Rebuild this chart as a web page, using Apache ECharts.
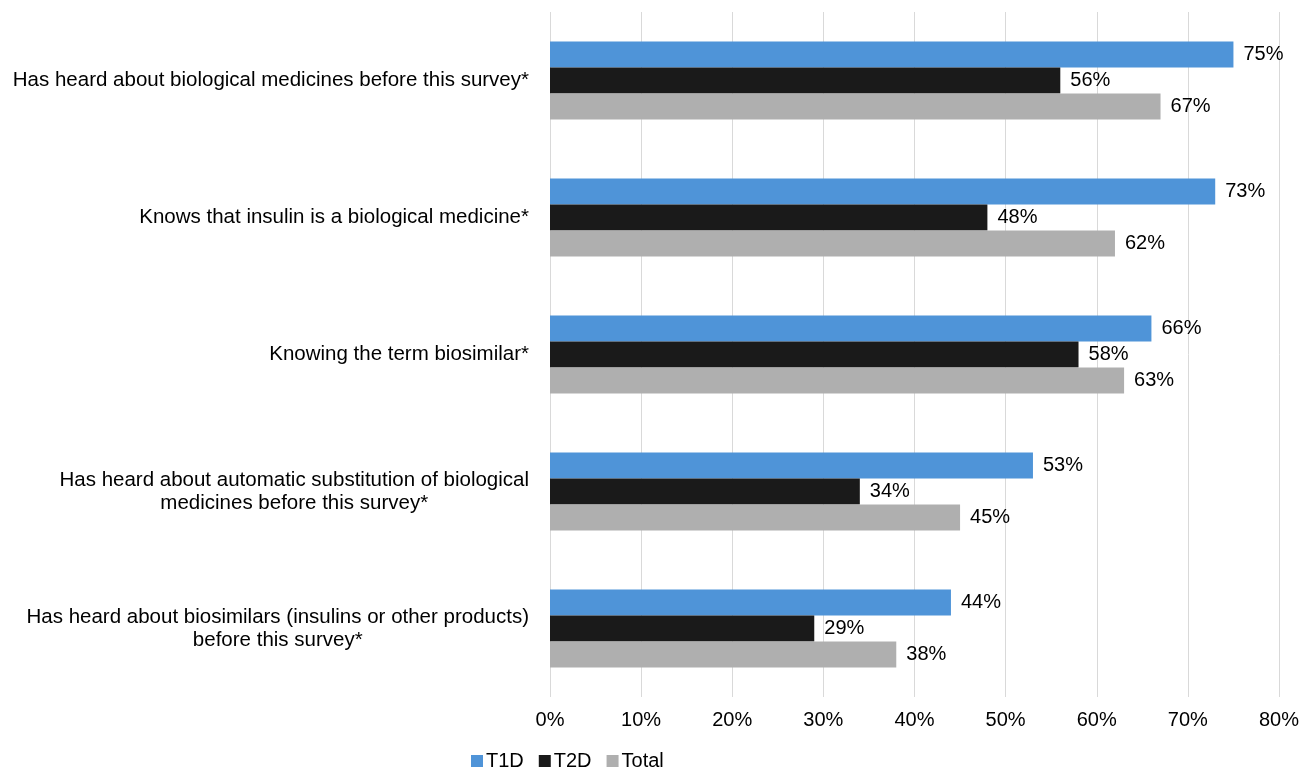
<!DOCTYPE html>
<html>
<head>
<meta charset="utf-8">
<script src="https://cdn.jsdelivr.net/npm/echarts@6/dist/echarts.min.js"></script>
<style>
  html, body { margin: 0; padding: 0; background: #fff; }
  #chart { width: 1311px; height: 769px; }
</style>
</head>
<body>
<div id="chart"></div>
<script>
  const categories = [
    'Has heard about biological medicines before this survey*',
    'Knows that insulin is a biological medicine*',
    'Knowing the term biosimilar*',
    'Has heard about automatic substitution of biological\nmedicines before this survey*',
    'Has heard about biosimilars (insulins or other products)\nbefore this survey*'
  ]
  const seriesNames = ['T1D', 'T2D', 'Total']
  const t1d = [75, 73, 66, 53, 44]
  const t2d = [56, 48, 58, 34, 29]
  const total = [67, 62, 63, 45, 38]
  const colors = ['#4f94d8', '#1a1a1a', '#afafaf']

  const font = 'Liberation Sans, Arial, sans-serif'
  const fs = 20
  const chart = echarts.init(document.getElementById('chart'))

  function makeSeries(name, data, color) {
    return {
      name: name,
      type: 'bar',
      data: data,
      barWidth: 26,
      barGap: '0%',
      itemStyle: {color: color},
      label: {
        show: true,
        position: 'right',
        distance: 10,
        formatter: '{c}%',
        color: '#000',
        fontSize: fs,
        fontFamily: font
      }
    }
  }

  let option = {
    animation: false,
    backgroundColor: '#fff',
    color: colors,
    legend: {
      data: seriesNames,
      bottom: -7,
      left: 466,
      itemWidth: 12,
      itemHeight: 12,
      itemGap: 15,
      icon: 'rect',
      textStyle: {fontSize: fs, fontFamily: font, color: '#000', padding: [0, 0, 0, -2]}
    },
    grid: {
      left: 550,
      right: 32,
      top: 12,
      bottom: 72,
      containLabel: false
    },
    xAxis: {
      type: 'value',
      min: 0,
      max: 80,
      interval: 10,
      axisLine: {show: false},
      axisTick: {show: false},
      axisLabel: {
        formatter: '{value}%',
        fontSize: fs,
        fontFamily: font,
        color: '#000',
        margin: 13
      },
      splitLine: {lineStyle: {color: '#d9d9d9', width: 1}}
    },
    yAxis: {
      type: 'category',
      inverse: true,
      data: categories,
      axisLine: {show: false},
      axisTick: {show: false},
      axisLabel: {
        margin: 21,
        formatter: function (v) {
          return v.split('\n').map(s => '{a|' + s + '}').join('\n')
        },
        rich: {
          a: {align: 'center', fontSize: 20.5, fontFamily: font, color: '#000', lineHeight: 23}
        }
      }
    },
    series: [
      makeSeries(seriesNames[0], t1d, colors[0]),
      makeSeries(seriesNames[1], t2d, colors[1]),
      makeSeries(seriesNames[2], total, colors[2])
    ]
  }
  chart.setOption(option)
</script>
</body>
</html>
